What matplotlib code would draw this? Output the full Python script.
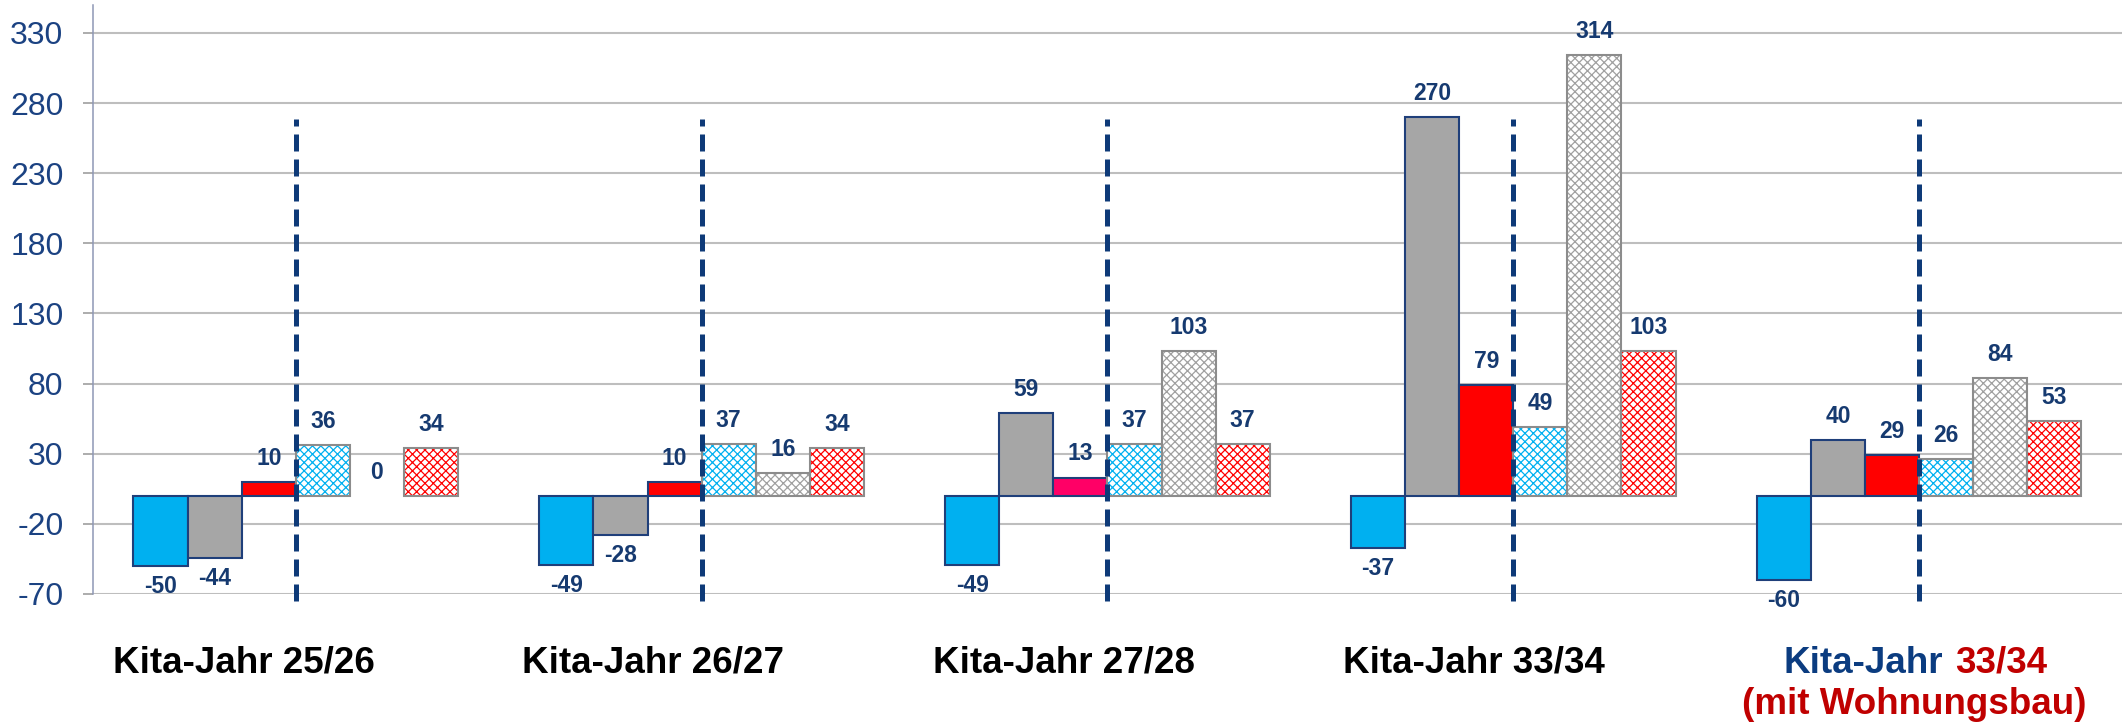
import numpy as np
import matplotlib
matplotlib.use('Agg')
import matplotlib.pyplot as plt

# 데이터
groups = ['Kita-Jahr 25/26', 'Kita-Jahr 26/27', 'Kita-Jahr 27/28', 'Kita-Jahr 33/34', 'Kita-Jahr 33/34']
solid_blue = [-50, -49, -49, -37, -60]
solid_grey = [-44, -28, 59, 270, 40]
solid_red = [10, 10, 13, 79, 29]
hatch_blue = [36, 37, 37, 49, 26]
hatch_grey = [0, 16, 103, 314, 84]
hatch_red = [34, 34, 37, 103, 53]
y_ticks = [-70, -20, 30, 80, 130, 180, 230, 280, 330]

plt.rcParams['font.family'] = ['Liberation Sans', 'DejaVu Sans']
plt.rcParams['hatch.linewidth'] = 0.9
plt.rcParams['axes.unicode_minus'] = False

NAVY = '#163A70'
TICK = '#1B4282'
DASH = '#0E3A78'

fig = plt.figure(figsize=(21.26, 7.28), dpi=100)
ax = fig.add_axes([0.0437, 0.1841, 0.9544, 0.8091])

x = np.arange(len(groups))
w = 0.8 / 6

series = [
    (solid_blue, '#00B0F0', False),
    (solid_grey, '#A6A6A6', False),
    (solid_red, ['#FF0000', '#FF0000', '#FF0066', '#FF0000', '#FF0000'], False),
    (hatch_blue, '#00B0F0', True),
    (hatch_grey, '#A0A0A0', True),
    (hatch_red, '#FF0000', True),
]

for j, (vals, col, hatched) in enumerate(series):
    pos = x + (j - 2.5) * w
    lw = [0 if v == 0 else 1.5 for v in vals]
    if hatched:
        # 무늬 (체크 패턴 근사)
        ax.bar(pos, vals, width=w, color='white', edgecolor=col, linewidth=0,
               hatch='xxxx', zorder=2)
        ax.bar(pos, vals, width=w, fill=False, edgecolor='#8C8C8C', linewidth=lw, zorder=2.1)
    else:
        ax.bar(pos, vals, width=w, color=col, edgecolor='#1F3F7A', linewidth=lw, zorder=2)
    for xi, v in zip(pos, vals):
        off = 17 if v >= 0 else -15
        ax.annotate(f'{v}', (xi, v), xytext=(0, off), textcoords='offset points',
                    ha='center', va='center', fontsize=16.5, fontweight='bold', color=NAVY)

# 세로 점선
ax.vlines(x, -75, 269, colors=DASH, linewidth=3.6, linestyles=(0, (3.4, 1.6)),
          zorder=3, clip_on=False)

ax.set_xlim(-0.5, len(groups) - 0.5)
ax.set_ylim(-70, 350)
ax.set_yticks(y_ticks)
ax.set_xticks([])
ax.tick_params(axis='y', labelsize=23, labelcolor=TICK, color='#A6A6A6', length=7.2,
               width=1.3, pad=14)
ax.yaxis.grid(True, color='#BEBEBE', linewidth=1.5, zorder=0)
ax.set_axisbelow(True)
for s in ['top', 'right', 'bottom']:
    ax.spines[s].set_visible(False)
ax.spines['left'].set_color('#8E97B5')
ax.spines['left'].set_linewidth(1.1)

# 그룹 라벨
label_x = [-0.128, 0.881, 1.893, 2.903]
for lx, g in zip(label_x, groups[:4]):
    ax.annotate(g, (lx, 0), xycoords=('data', 'axes fraction'), xytext=(0, -49.7),
                textcoords='offset points', ha='center', va='center',
                fontsize=26.5, fontweight='bold', color='black')

ax.annotate('Kita-Jahr', (4.074, 0), xycoords=('data', 'axes fraction'), xytext=(-4.3, -49.7),
            textcoords='offset points', ha='right', va='center',
            fontsize=26.5, fontweight='bold', color='#0B3C80')
ax.annotate('33/34', (4.074, 0), xycoords=('data', 'axes fraction'), xytext=(4.3, -49.7),
            textcoords='offset points', ha='left', va='center',
            fontsize=26.5, fontweight='bold', color='#C00000')
ax.annotate('(mit Wohnungsbau)', (3.989, 0), xycoords=('data', 'axes fraction'),
            xytext=(0, -79.9), textcoords='offset points', ha='center', va='center',
            fontsize=26.5, fontweight='bold', color='#C00000')

plt.savefig('out.png', dpi=100)
plt.close()
